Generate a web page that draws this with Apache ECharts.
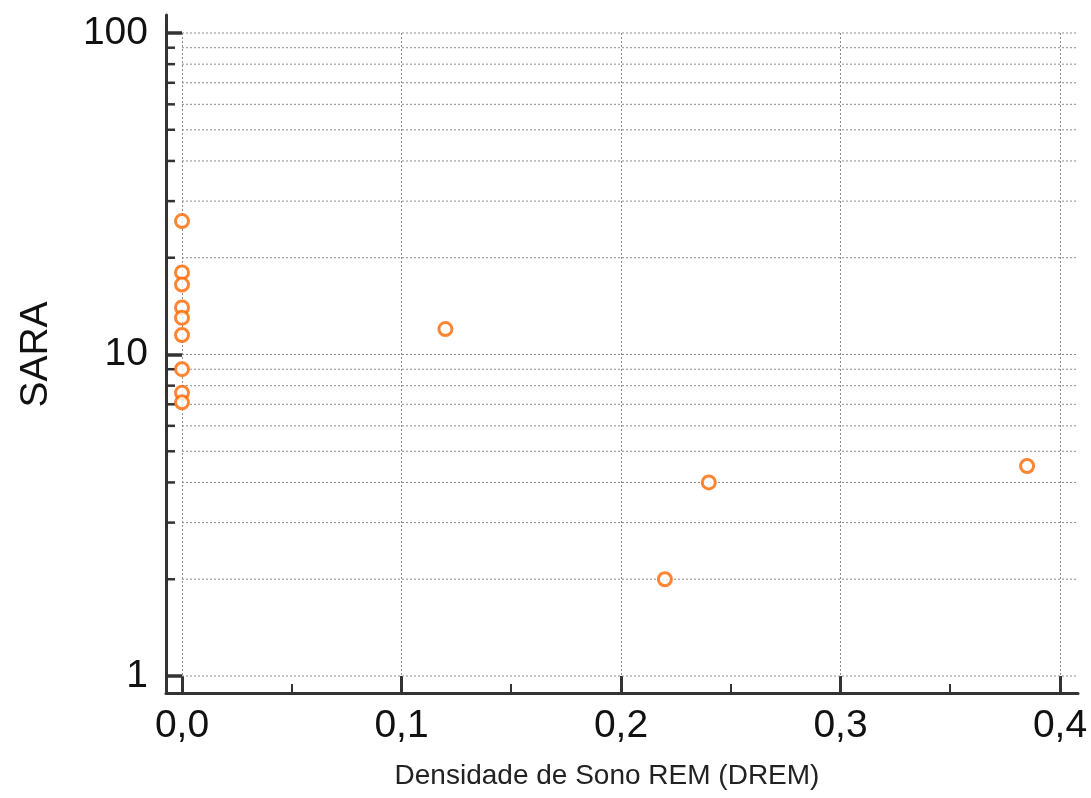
<!DOCTYPE html>
<html>
<head>
<meta charset="utf-8">
<script src="https://cdn.jsdelivr.net/npm/echarts@6/dist/echarts.min.js"></script>
<style>
  html, body { margin: 0; padding: 0; background: #fff; }
  #main { width: 1091px; height: 798px; }
</style>
</head>
<body>
<div id="main"></div>
<script>
// DREM (x) vs SARA (y, log scale)
var dremValues = [0, 0, 0, 0, 0, 0, 0, 0, 0, 0.12, 0.22, 0.24, 0.385];
var saraValues = [26, 18, 16.5, 14, 13, 11.5, 9, 7.6, 7.1, 12, 2, 4, 4.5];

var xTicks = [0, 0.1, 0.2, 0.3, 0.4];
var yMajor = [1, 10, 100];
var yMinor = [2, 3, 4, 5, 6, 7, 8, 9, 20, 30, 40, 50, 60, 70, 80, 90];

var xName = 'Densidade de Sono REM (DREM)';
var yName = 'SARA';

var fontFam = '"Liberation Sans", Arial, Helvetica, sans-serif';
var gridColor = '#8c8c8c';
var orange = '#ff6600';

var points = [];
for (var i = 0; i < dremValues.length; i++) {
  points.push([dremValues[i], saraValues[i]]);
}

// horizontal grid lines + minor ticks on the y axis (log scale)
var hLines = [];
yMajor.forEach(function (v) { hLines.push([0, v, 1]); });
yMinor.forEach(function (v) { hLines.push([0, v, 0]); });

var myChart = echarts.init(document.getElementById('main'), null, { renderer: 'canvas' });

var option = {
  backgroundColor: '#fff',
  animation: false,
  grid: [
    { left: 182, right: 31, top: 33, bottom: 122 },   // data area
    { left: 166, right: 13, top: 15, bottom: 105 }    // axis frame
  ],
  xAxis: [
    {
      type: 'value',
      gridIndex: 0,
      min: 0,
      max: 0.4,
      interval: 0.1,
      offset: 17,
      name: xName,
      nameLocation: 'middle',
      nameGap: 69,
      nameTextStyle: { fontFamily: fontFam, fontSize: 28, color: '#222', padding: [0, 28, 0, 0] },
      axisLine: { show: false },
      axisTick: { show: true, inside: true, length: 17, lineStyle: { color: '#333', width: 3 } },
      minorTick: { show: true, splitNumber: 2, length: 9, lineStyle: { color: '#333', width: 2 } },
      axisLabel: {
        fontFamily: fontFam,
        fontSize: 39,
        color: '#111',
        margin: 14,
        formatter: function (v) { return v.toFixed(1).replace('.', ','); }
      },
      splitLine: { show: true, lineStyle: { color: gridColor, type: [2, 2], width: 1 } }
    },
    {
      type: 'value',
      gridIndex: 1,
      min: 0,
      max: 1,
      axisLine: { show: true, lineStyle: { color: '#333', width: 3 } },
      axisTick: { show: false },
      axisLabel: { show: false },
      splitLine: { show: false }
    }
  ],
  yAxis: [
    {
      type: 'log',
      gridIndex: 0,
      logBase: 10,
      min: 1,
      max: 100,
      name: yName,
      nameLocation: 'middle',
      nameGap: 126,
      nameTextStyle: { fontFamily: fontFam, fontSize: 39, color: '#111' },
      axisLine: { show: false },
      axisTick: { show: true, inside: false, length: 16, lineStyle: { color: '#333', width: 3.5 } },
      axisLabel: { fontFamily: fontFam, fontSize: 39, color: '#111', margin: 34 },
      splitLine: { show: false }
    },
    {
      type: 'value',
      gridIndex: 1,
      min: 0,
      max: 1,
      axisLine: { show: true, lineStyle: { color: '#333', width: 3 } },
      axisTick: { show: false },
      axisLabel: { show: false },
      splitLine: { show: false }
    }
  ],
  series: [
    {
      name: 'grid',
      type: 'custom',
      xAxisIndex: 0,
      yAxisIndex: 0,
      silent: true,
      clip: false,
      z: 1,
      data: hLines,
      renderItem: function (params, api) {
        var p = api.coord([api.value(0), api.value(1)]);
        var right = api.coord([0.4, api.value(1)])[0] + 16;
        var items = [{
          type: 'line',
          shape: { x1: p[0], y1: p[1], x2: right, y2: p[1] },
          style: { stroke: gridColor, lineWidth: 1, lineDash: [2, 2] }
        }];
        if (!api.value(2)) {
          items.push({
            type: 'line',
            shape: { x1: p[0] - 17, y1: p[1], x2: p[0] - 7, y2: p[1] },
            style: { stroke: '#333', lineWidth: 2.5 }
          });
        }
        return { type: 'group', children: items };
      }
    },
    {
      name: 'SARA',
      type: 'scatter',
      xAxisIndex: 0,
      yAxisIndex: 0,
      z: 5,
      symbol: 'circle',
      symbolSize: 13,
      itemStyle: { color: '#fff', borderColor: orange, borderWidth: 3 },
      data: points
    }
  ]
};

myChart.setOption(option);
</script>
</body>
</html>
